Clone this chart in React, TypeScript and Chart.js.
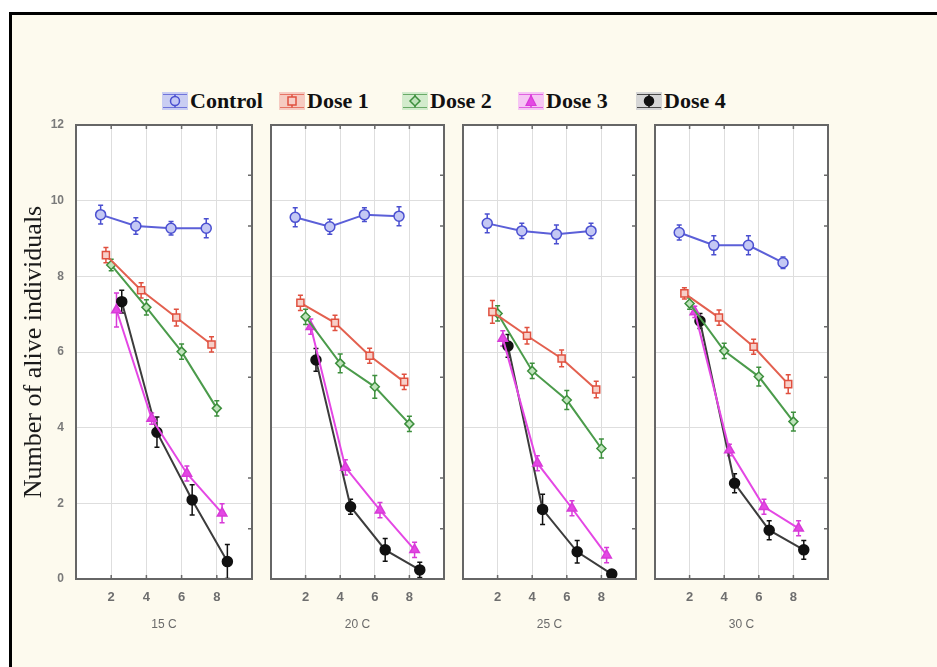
import React, { useEffect, useRef } from "react";
import { Chart, registerables } from "chart.js";

Chart.register(...registerables);

// ---------- DATA ----------
const seriesNames = ["Control", "Dose 1", "Dose 2", "Dose 3", "Dose 4"];
const panelLabels = ["15 C", "20 C", "25 C", "30 C"];
const xTickLabels = [2, 4, 6, 8];
const yTickLabels = [0, 2, 4, 6, 8, 10, 12];
const rightMinorTicks = [1.33, 2.67, 5.33, 6.67, 9.33, 10.67];
const yTitle = "Number of alive individuals";

// x positions (time, slightly jittered per series as in the figure)
const controlX = [1.4, 3.4, 5.4, 7.4];
const dose1X = [1.7, 3.7, 5.7, 7.7];
const dose2X = [2, 4, 6, 8];
const dose3X = [2.3, 4.3, 6.3, 8.3];
const dose4X = [2.6, 4.6, 6.6, 8.6];

// 15 C
const control15 = [9.63, 9.33, 9.27, 9.27];
const dose1_15 = [8.56, 7.63, 6.91, 6.2];
const dose2_15 = [8.3, 7.18, 6.01, 4.51];
const dose3_15 = [7.11, 4.24, 2.79, 1.74];
const dose4_15 = [7.33, 3.88, 2.09, 0.46];
const controlErr15 = [0.25, 0.22, 0.18, 0.25];
const dose1Err15 = [0.2, 0.2, 0.22, 0.2];
const dose2Err15 = [0.15, 0.2, 0.2, 0.2];
const dose3Err15 = [0.45, 0.15, 0.2, 0.25];
const dose4Err15 = [0.3, 0.4, 0.4, 0.45];

// 20 C
const control20 = [9.56, 9.31, 9.63, 9.59];
const dose1_20 = [7.3, 6.77, 5.9, 5.21];
const dose2_20 = [6.93, 5.7, 5.08, 4.1];
const dose3_20 = [6.67, 2.95, 1.82, 0.77];
const dose4_20 = [5.79, 1.91, 0.77, 0.24];
const controlErr20 = [0.25, 0.2, 0.18, 0.25];
const dose1Err20 = [0.2, 0.2, 0.2, 0.2];
const dose2Err20 = [0.2, 0.25, 0.3, 0.2];
const dose3Err20 = [0.2, 0.2, 0.2, 0.2];
const dose4Err20 = [0.3, 0.2, 0.3, 0.2];

// 25 C
const control25 = [9.4, 9.2, 9.11, 9.2];
const dose1_25 = [7.06, 6.43, 5.83, 5.01];
const dose2_25 = [7.02, 5.5, 4.73, 3.45];
const dose3_25 = [6.36, 3.06, 1.87, 0.63];
const dose4_25 = [6.16, 1.84, 0.72, 0.13];
const controlErr25 = [0.25, 0.2, 0.25, 0.2];
const dose1Err25 = [0.3, 0.22, 0.22, 0.22];
const dose2Err25 = [0.2, 0.2, 0.25, 0.25];
const dose3Err25 = [0.2, 0.2, 0.2, 0.2];
const dose4Err25 = [0.3, 0.4, 0.3, 0.1];

// 30 C
const control30 = [9.16, 8.82, 8.82, 8.36];
const dose1_30 = [7.55, 6.91, 6.14, 5.15];
const dose2_30 = [7.28, 6.03, 5.35, 4.16];
const dose3_30 = [7.06, 3.41, 1.91, 1.34];
const dose4_30 = [6.82, 2.53, 1.29, 0.77];
const controlErr30 = [0.2, 0.25, 0.25, 0.15];
const dose1Err30 = [0.15, 0.2, 0.2, 0.25];
const dose2Err30 = [0.15, 0.2, 0.25, 0.25];
const dose3Err30 = [0.15, 0.15, 0.2, 0.2];
const dose4Err30 = [0.2, 0.25, 0.25, 0.25];

const seriesX = [controlX, dose1X, dose2X, dose3X, dose4X];
const panelValues = [
  [control15, dose1_15, dose2_15, dose3_15, dose4_15],
  [control20, dose1_20, dose2_20, dose3_20, dose4_20],
  [control25, dose1_25, dose2_25, dose3_25, dose4_25],
  [control30, dose1_30, dose2_30, dose3_30, dose4_30],
];
const panelErrors = [
  [controlErr15, dose1Err15, dose2Err15, dose3Err15, dose4Err15],
  [controlErr20, dose1Err20, dose2Err20, dose3Err20, dose4Err20],
  [controlErr25, dose1Err25, dose2Err25, dose3Err25, dose4Err25],
  [controlErr30, dose1Err30, dose2Err30, dose3Err30, dose4Err30],
];

// ---------- STYLE ----------
const lineColors = ["#5b5fd8", "#e3604f", "#4b9b4b", "#e447e4", "#3c3c3c"];
const markerFills = ["#c4c8f4", "#f7cfc8", "#bfe3bb", "#e447e4", "#111111"];
const markerBorders = ["#4a4fd0", "#e0503f", "#3d8f3d", "#d83ad8", "#111111"];
const pointStyles = ["circle", "rect", "rectRot", "triangle", "circle"];
const pointRadii = [5, 5, 4.5, 5.5, 5];
const legendBgs = ["#c9cdf2", "#f6cbc2", "#d2ebcc", "#f6c6f4", "#d6d6d6"];

const PLOT_LEFTS = [76, 267.5, 459.5, 651.5];
const PLOT_W = 179;
const PLOT_TOP = 125;
const PLOT_BOTTOM = 579;
const CANVAS_TOP = 115;
const X_AXIS_H = 60;
const PAD_R = 4;
const SANS = "'Liberation Sans', Arial, sans-serif";
const SERIF = "'Liberation Serif', 'Times New Roman', serif";

const panelPlugin = {
  id: "panelDecor",
  beforeDraw(chart: any) {
    const { ctx, chartArea: a } = chart;
    ctx.save();
    ctx.fillStyle = "#ffffff";
    ctx.fillRect(a.left, a.top, a.right - a.left, a.bottom - a.top);
    ctx.restore();
  },
  beforeDatasetsDraw(chart: any) {
    const { ctx } = chart;
    const ys = chart.scales.y;
    ctx.save();
    chart.data.datasets.forEach((ds: any, di: number) => {
      const meta = chart.getDatasetMeta(di);
      ctx.strokeStyle = ds.errColor;
      ctx.lineWidth = 1.5;
      meta.data.forEach((pt: any, i: number) => {
        const v = ds.data[i].y;
        const e = ds.errors[i];
        const yT = ys.getPixelForValue(v + e);
        const yB = ys.getPixelForValue(v - e);
        ctx.beginPath();
        ctx.moveTo(pt.x, yT);
        ctx.lineTo(pt.x, yB);
        ctx.moveTo(pt.x - 2.5, yT);
        ctx.lineTo(pt.x + 2.5, yT);
        ctx.moveTo(pt.x - 2.5, yB);
        ctx.lineTo(pt.x + 2.5, yB);
        ctx.stroke();
      });
    });
    ctx.restore();
  },
  afterDraw(chart: any) {
    const { ctx, chartArea: a } = chart;
    const xs = chart.scales.x;
    const ys = chart.scales.y;
    ctx.save();
    ctx.strokeStyle = "#6a6a6a";
    ctx.lineWidth = 1.5;
    ctx.beginPath();
    xTickLabels.forEach((t) => {
      const px = xs.getPixelForValue(t);
      ctx.moveTo(px, a.bottom);
      ctx.lineTo(px, a.bottom - 4);
      ctx.moveTo(px, a.top);
      ctx.lineTo(px, a.top + 4);
    });
    rightMinorTicks.forEach((t) => {
      const py = ys.getPixelForValue(t);
      ctx.moveTo(a.right, py);
      ctx.lineTo(a.right - 4, py);
    });
    ctx.stroke();
    ctx.strokeStyle = "#666666";
    ctx.lineWidth = 2;
    ctx.strokeRect(a.left, a.top, a.right - a.left, a.bottom - a.top);
    ctx.restore();
  },
};

function Panel({ index }: { index: number }) {
  const ref = useRef<HTMLCanvasElement | null>(null);
  const first = index === 0;
  const leftSpace = first ? 61 : 4;
  const canvasLeft = PLOT_LEFTS[index] - leftSpace;
  const width = leftSpace + PLOT_W + PAD_R;
  const height = PLOT_BOTTOM - CANVAS_TOP + X_AXIS_H;

  useEffect(() => {
    if (!ref.current) return;
    const datasets = seriesNames.map((name, s) => ({
      label: name,
      data: seriesX[s].map((x, i) => ({ x, y: panelValues[index][s][i] })),
      errors: panelErrors[index][s],
      errColor: markerBorders[s],
      borderColor: lineColors[s],
      borderWidth: 2,
      backgroundColor: markerFills[s],
      pointBackgroundColor: markerFills[s],
      pointBorderColor: markerBorders[s],
      pointBorderWidth: 1.5,
      pointStyle: pointStyles[s],
      pointRadius: pointRadii[s],
      tension: 0,
      fill: false,
    }));
    const chart = new Chart(ref.current, {
      type: "line",
      data: { datasets } as any,
      plugins: [panelPlugin],
      options: {
        animation: false,
        responsive: false,
        devicePixelRatio: 1,
        events: [],
        layout: { padding: { left: first ? 0 : 4, right: PAD_R, top: PLOT_TOP - CANVAS_TOP, bottom: 0 } },
        plugins: { legend: { display: false }, tooltip: { enabled: false } },
        scales: {
          x: {
            type: "linear",
            min: 0,
            max: 10,
            afterFit: (s: any) => {
              s.height = X_AXIS_H;
              s.paddingLeft = 0;
              s.paddingRight = 0;
            },
            ticks: {
              stepSize: 2,
              autoSkip: false,
              maxRotation: 0,
              padding: 11,
              color: "#6e6e6e",
              font: { family: SANS, size: 13, weight: "bold" },
              callback: (v: any) => (xTickLabels.includes(Number(v)) ? String(v) : ""),
            },
            grid: { color: "#dedede", lineWidth: 1, drawTicks: false },
            border: { display: false },
            title: {
              display: true,
              text: panelLabels[index],
              color: "#6a6a6a",
              font: { family: SANS, size: 12 },
              padding: { top: 0, bottom: 7 },
            },
          },
          y: {
            type: "linear",
            min: 0,
            max: 12,
            afterFit: (s: any) => {
              s.width = first ? 61 : 0;
              s.paddingTop = 0;
              s.paddingBottom = 0;
            },
            ticks: {
              display: first,
              stepSize: 2,
              padding: 12,
              color: "#7a7a7a",
              font: { family: SANS, size: 12, weight: "bold" },
              callback: (v: any) => (yTickLabels.includes(Number(v)) ? String(v) : ""),
            },
            grid: { color: "#dedede", lineWidth: 1, drawTicks: false },
            border: { display: false },
            title: {
              display: first,
              text: yTitle,
              color: "#1a1a1a",
              font: { family: SERIF, size: 26 },
              padding: { top: 4, bottom: 0 },
            },
          },
        },
      } as any,
    });
    return () => chart.destroy();
  }, [index]);

  return (
    <canvas
      ref={ref}
      width={width}
      height={height}
      style={{ position: "absolute", left: canvasLeft, top: CANVAS_TOP, width, height }}
    />
  );
}

function LegendIcon({ s }: { s: number }) {
  const c = markerBorders[s];
  const f = markerFills[s];
  let marker: any;
  if (pointStyles[s] === "circle") marker = <circle cx={13} cy={9} r={4.5} fill={f} stroke={c} strokeWidth={1.5} />;
  else if (pointStyles[s] === "rect") marker = <rect x={9} y={5} width={8} height={8} fill={f} stroke={c} strokeWidth={1.5} />;
  else if (pointStyles[s] === "rectRot") marker = <polygon points="13,4 18,9 13,14 8,9" fill={f} stroke={c} strokeWidth={1.5} />;
  else marker = <polygon points="13,3.5 18,13.5 8,13.5" fill={f} stroke={c} strokeWidth={1.2} />;
  return (
    <svg width={26} height={18} style={{ display: "block", flex: "none" }}>
      <rect x={0} y={0} width={26} height={18} fill={legendBgs[s]} />
      <line x1={1} y1={2.5} x2={25} y2={2.5} stroke={c} strokeWidth={1} opacity={0.7} />
      <line x1={1} y1={15.5} x2={25} y2={15.5} stroke={c} strokeWidth={1} opacity={0.7} />
      <line x1={13} y1={2.5} x2={13} y2={15.5} stroke={c} strokeWidth={1.5} />
      {marker}
    </svg>
  );
}

const LEGEND_LEFTS = [162, 279, 402, 518, 636];

export default function App() {
  return (
    <div
      style={{
        position: "absolute",
        left: 0,
        top: 0,
        width: 937,
        height: 667,
        overflow: "hidden",
        background: "#ffffff",
      }}
    >
      <div
        style={{
          position: "absolute",
          left: 9,
          top: 12,
          width: 960,
          height: 700,
          border: "3px solid #000",
          background: "#fdfaee",
          boxSizing: "border-box",
        }}
      />
      {seriesNames.map((name, s) => (
        <div
          key={name}
          style={{
            position: "absolute",
            left: LEGEND_LEFTS[s],
            top: 89,
            height: 24,
            display: "flex",
            alignItems: "center",
            gap: 2,
            whiteSpace: "nowrap",
          }}
        >
          <LegendIcon s={s} />
          <span
            style={{
              fontFamily: SERIF,
              fontWeight: "bold",
              fontSize: 22,
              color: "#111",
              lineHeight: "24px",
            }}
          >
            {name}
          </span>
        </div>
      ))}
      {panelLabels.map((p, i) => (
        <Panel key={p} index={i} />
      ))}
    </div>
  );
}
